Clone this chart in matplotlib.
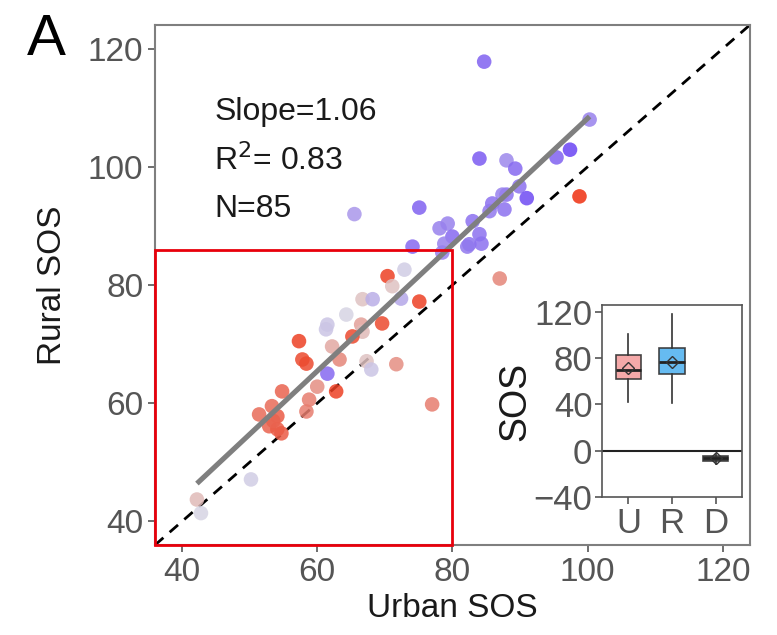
import numpy as np
import matplotlib
matplotlib.use("Agg")
import matplotlib.pyplot as plt
from matplotlib.colors import LinearSegmentedColormap
from matplotlib.patches import Rectangle

plt.rcParams['font.family'] = ['Liberation Sans', 'DejaVu Sans']

# urban / rural SOS per city, plus a colour value (-1 red ... 0 grey ... 1 purple)
urban = [84.7, 100.3, 97.4, 95.4, 84.0, 88.0, 89.3, 89.9, 91.0, 88.0,
         87.4, 85.9, 87.7, 85.5, 75.1, 65.5, 78.1, 79.3, 80.0, 83.0,
         84.0, 82.5, 84.3, 78.8, 74.1, 82.2, 78.5, 98.8, 87.0, 77.0,
         70.4, 72.9, 71.1, 75.1, 72.4, 66.7, 68.2, 64.3, 61.5, 61.3,
         69.6, 66.5, 66.7, 65.2, 57.3, 57.8, 58.4, 62.2, 63.3, 67.3,
         68.0, 71.7, 61.5, 60.0, 62.8, 54.8, 58.8, 58.4, 53.3, 51.4,
         54.1, 52.9, 54.1, 54.7, 53.5, 50.2, 42.2, 42.8]
rural = [117.8, 108.0, 102.9, 101.6, 101.4, 101.1, 99.7, 96.7, 94.7, 95.3,
         95.3, 93.8, 92.8, 92.5, 93.1, 92.0, 89.6, 90.4, 88.2, 90.8,
         88.6, 86.9, 87.0, 87.0, 86.5, 86.5, 85.5, 95.0, 81.1, 59.8,
         81.5, 82.6, 79.8, 77.2, 77.7, 77.6, 77.6, 75.0, 73.3, 72.5,
         73.5, 73.3, 72.1, 71.3, 70.5, 67.4, 66.7, 69.6, 67.4, 67.1,
         65.7, 66.6, 65.0, 62.8, 62.0, 62.0, 60.6, 58.6, 59.5, 58.1,
         57.8, 56.1, 55.6, 54.9, 57.0, 47.1, 43.7, 41.4]
shade = [0.8, 0.6, 1.0, 0.8, 0.85, 0.55, 0.75, 0.7, 0.95, 0.7,
         0.6, 0.7, 0.7, 0.65, 0.8, 0.45, 0.6, 0.6, 0.75, 0.7,
         0.7, 0.7, 0.7, 0.6, 0.75, 0.65, 0.6, -1.0, -0.5, -0.55,
         -0.9, 0.1, -0.15, -0.9, 0.35, -0.15, 0.3, 0.05, 0.15, 0.15,
         -0.85, -0.35, -0.2, -0.85, -0.9, -0.85, -0.85, -0.3, -0.5, -0.15,
         0.15, -0.45, 0.75, -0.45, -0.9, -0.7, -0.55, -0.55, -0.65, -0.65,
         -0.75, -0.7, -0.75, -0.75, -0.7, 0.1, -0.2, 0.05]

stats_text = ["Slope=1.06", "R$^2$= 0.83", "N=85"]

# inset boxplot summaries (U, R, D)
box_labels = ["U", "R", "D"]
box_med = [69.6, 77.0, -6.5]
box_q1 = [61.6, 66.7, -8.9]
box_q3 = [82.4, 88.9, -4.4]
box_lo = [42.1, 41.5, -11.8]
box_hi = [100.7, 118.0, -2.4]
box_mean = [71.7, 76.4, -6.0]
box_fill = ["#f4a0a0", "#55b4f0", "#555555"]

cmap = LinearSegmentedColormap.from_list("rp", ["#ef3010", "#dcdce2", "#6a44f4"])

fig = plt.figure(figsize=(7.77, 6.35), dpi=100)
ax = fig.add_axes([0.1995, 0.1417, 0.7655, 0.8189])

lim = (36, 124)
ax.plot(lim, lim, ls=(0, (4, 3)), color="black", lw=2, zorder=1)
ax.scatter(urban, rural, c=shade, cmap=cmap, vmin=-1, vmax=1, s=110,
           alpha=0.85, edgecolors="none", zorder=2)

k, b = np.polyfit(urban, rural, 1)
fx = np.array([min(urban), max(urban)])
ax.plot(fx, k * fx + b, color="#7f7f7f", lw=3.7, solid_capstyle="butt", zorder=3)

ax.set_xlim(lim)
ax.set_ylim(lim)
ticks = [40, 60, 80, 100, 120]
ax.set_xticks(ticks)
ax.set_yticks(ticks)
ax.tick_params(labelsize=24, labelcolor="#555555", color="#555555", length=5, width=1.2)
for s in ax.spines.values():
    s.set_color("#7f7f7f")
    s.set_linewidth(1.5)
ax.set_xlabel("Urban SOS", fontsize=24, color="#1a1a1a", labelpad=4)
ax.set_ylabel("Rural SOS", fontsize=24, color="#1a1a1a", labelpad=14)

for i, t in enumerate(stats_text):
    ax.text(0.10, 0.833 - i * 0.093, t, transform=ax.transAxes, fontsize=23,
            color="#1a1a1a", va="center", ha="left")

ax.add_patch(Rectangle((36, 36), 44, 50, fill=False, edgecolor="#e8000b",
                       lw=2, clip_on=False, zorder=5))

fig.text(0.034, 0.937, "A", fontsize=42, color="black", va="center", ha="left")

# inset
ins = fig.add_axes([0.775, 0.2173, 0.180, 0.3024])
stats = []
for i in range(3):
    stats.append(dict(med=box_med[i], q1=box_q1[i], q3=box_q3[i],
                      whislo=box_lo[i], whishi=box_hi[i], mean=box_mean[i],
                      fliers=[], label=box_labels[i]))
ins.axhline(0, color="#222222", lw=1.5, zorder=0)
bp = ins.bxp(stats, positions=[1, 2, 3], widths=0.58, patch_artist=True,
             showmeans=True, showcaps=False,
             medianprops=dict(color="#222222", lw=2),
             whiskerprops=dict(color="#333333", lw=1.2),
             boxprops=dict(edgecolor="#333333", lw=1.2),
             meanprops=dict(marker="D", markerfacecolor="none",
                            markeredgecolor="#333333", markersize=6))
for patch, col in zip(bp["boxes"], box_fill):
    patch.set_facecolor(col)
    patch.set_alpha(0.9)
ins.set_xlim(0.4, 3.6)
ins.set_ylim(-40, 126)
ins.set_yticks([-40, 0, 40, 80, 120])
ins.tick_params(labelsize=25, labelcolor="#555555", color="#555555", length=5,
                width=1.2, pad=2)
ins.set_ylabel("SOS", fontsize=27, color="#1a1a1a", labelpad=0)
for s in ins.spines.values():
    s.set_color("#555555")
    s.set_linewidth(1.2)

fig.savefig("out.png", dpi=100)
